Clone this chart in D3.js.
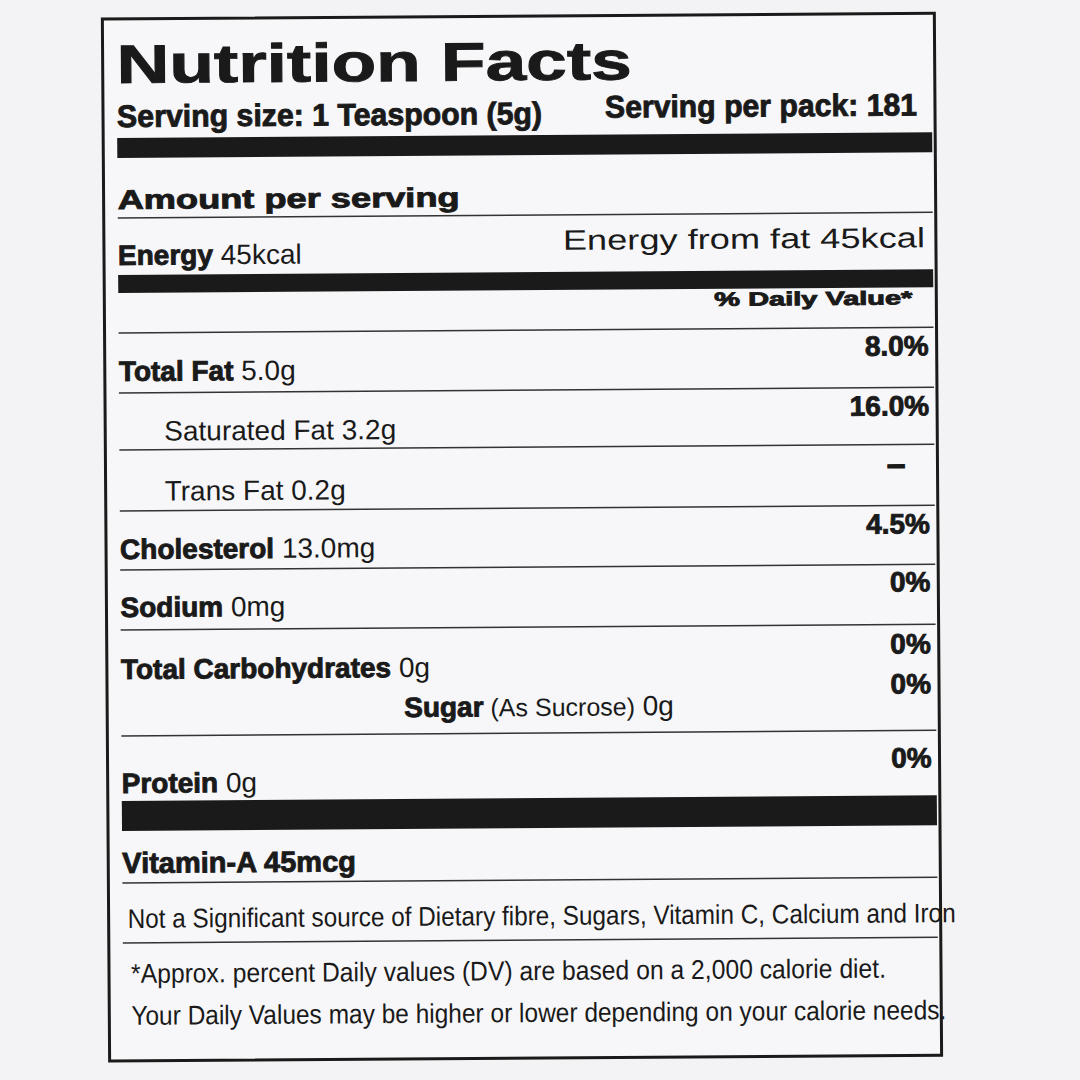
<!DOCTYPE html>
<html lang="en">
<head>
<meta charset="UTF-8">
<title>Nutrition Facts</title>
<style>
  body { margin: 0; background: #f3f3f5; }
  text { font-family: "Liberation Sans", Arial, sans-serif; fill: #1a1a1a; }
  .heavy { font-weight: bold; stroke: #1a1a1a; stroke-width: 0.9px; }
  .narrow { font-family: "Liberation Sans Narrow", "Liberation Sans", sans-serif; }
</style>
</head>
<body>
<div id="chart"></div>
<script src="https://d3js.org/d3.v7.min.js"></script>
<script>
// label content
const nutrients = ["Total Fat", "Saturated Fat", "Trans Fat", "Cholesterol", "Sodium", "Total Carbohydrates", "Sugar", "Protein"];
const amounts = ["5.0g", "3.2g", "0.2g", "13.0mg", "0mg", "0g", "0g", "0g"];
const dailyValues = ["8.0%", "16.0%", "–", "4.5%", "0%", "0%", "0%", "0%"];
const rowIndent = [0, 45, 45, 0, 0, 0, 283, 0];

// layout
const W = 1080, H = 1080;
const left = 120, right = 935;
const rowY = [378, 438, 498, 556, 614, 676, 716, 790];
const ruleY = [215, 330, 390, 447, 508, 567, 627, 733, 880, 940];
const barY = [[135, 20], [272, 18], [798, 30]];

const svg = d3.select("#chart").append("svg").attr("width", W).attr("height", H);
const g = svg.append("g").attr("transform", "rotate(-0.4 540 540)");

g.append("rect").attr("x", 106).attr("y", 16).attr("width", 832).attr("height", 1042)
  .attr("fill", "#f7f7f9").attr("stroke", "#1a1a1a").attr("stroke-width", 3);

g.selectAll("rect.bar").data(barY).join("rect").attr("class", "bar")
  .attr("x", left).attr("width", right - left).attr("y", d => d[0]).attr("height", d => d[1])
  .attr("fill", "#1a1a1a");

g.selectAll("line.rule").data(ruleY).join("line").attr("class", "rule")
  .attr("x1", left).attr("x2", right).attr("y1", d => d).attr("y2", d => d)
  .attr("stroke", "#333").attr("stroke-width", 1.5);

function txt(x, y, s, size, cls, anchor, len) {
  const t = g.append("text").attr("x", x).attr("y", y).attr("font-size", size)
    .attr("text-anchor", anchor || "start").attr("class", cls || "").text(s);
  if (len) t.attr("textLength", len).attr("lengthAdjust", "spacingAndGlyphs");
  return t;
}

txt(left, 80, "Nutrition Facts", 54, "heavy", "start", 515).attr("stroke-width", 2);
txt(left, 124, "Serving size: 1 Teaspoon (5g)", 31, "narrow heavy", "start", 425).attr("stroke-width", 0.6);
txt(920, 118, "Serving per pack: 181", 31, "narrow heavy", "end", 312).attr("stroke-width", 0.6);
txt(left, 206, "Amount per serving", 27, "heavy", "start", 342);
const en = txt(left, 262, "", 28, "");
en.append("tspan").attr("class", "heavy").attr("stroke-width", 1.3).text("Energy");
en.append("tspan").text(" 45kcal");
txt(927, 250, "Energy from fat 45kcal", 28, "", "end", 362);
txt(914, 307, "% Daily Value*", 19, "heavy", "end", 198);

rowY.forEach((y, i) => {
  const x = left + rowIndent[i];
  const t = g.append("text").attr("x", x).attr("y", y).attr("font-size", 28);
  if (rowIndent[i] === 45) t.append("tspan").text(nutrients[i]);
  else t.append("tspan").attr("class", "heavy").attr("stroke-width", 1.3).text(nutrients[i]);
  if (nutrients[i] === "Sugar") t.append("tspan").attr("font-size", 25).text(" (As Sucrose)");
  t.append("tspan").text(" " + amounts[i]);
  const v = txt(930, y - 20, dailyValues[i], 28, "heavy", "end");
  if (dailyValues[i] === "–") v.attr("font-size", 34).attr("x", 906);
});

const va = txt(left, 870, "", 29, "");
va.append("tspan").attr("class", "heavy").text("Vitamin-A 45mcg");
txt(125, 925, "Not a Significant source of Dietary fibre, Sugars, Vitamin C, Calcium and Iron", 27, "narrow", "start", 828);
txt(128, 980, "*Approx. percent Daily values (DV) are based on a 2,000 calorie diet.", 27, "narrow", "start", 755);
txt(128, 1022, "Your Daily Values may be higher or lower depending on your calorie needs.", 27, "narrow", "start", 815);
</script>
</body>
</html>
